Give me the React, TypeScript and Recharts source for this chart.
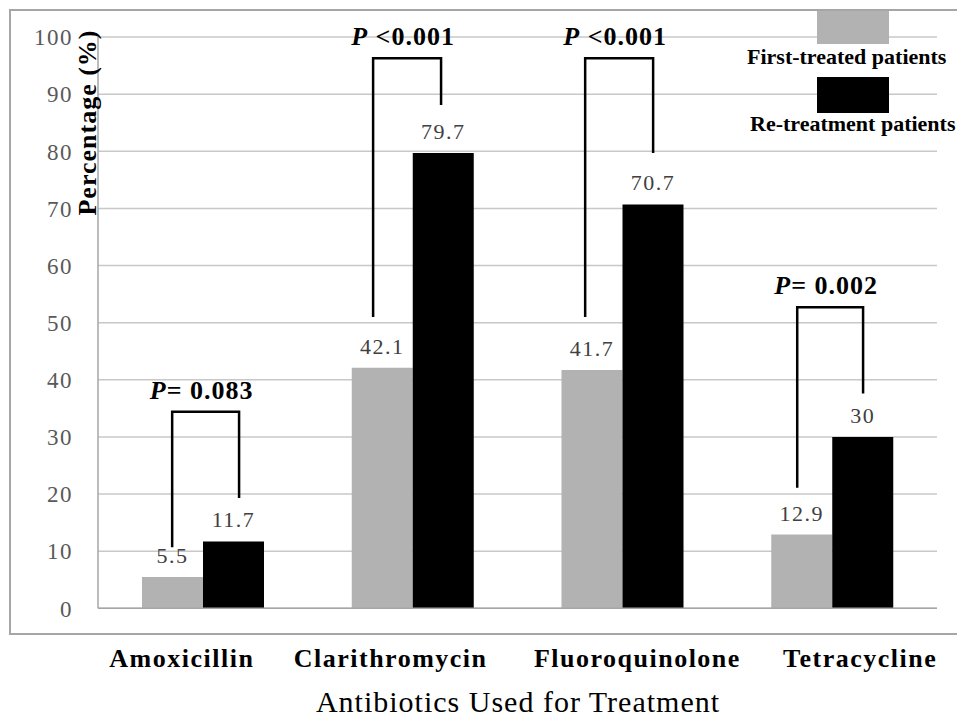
import React from 'react';
import { BarChart, Bar, XAxis, YAxis, CartesianGrid, LabelList } from 'recharts';

const categories = ['Amoxicillin', 'Clarithromycin', 'Fluoroquinolone', 'Tetracycline'];
const firstTreated = [5.5, 42.1, 41.7, 12.9];
const reTreatment = [11.7, 79.7, 70.7, 30];
const yTicks = [0, 10, 20, 30, 40, 50, 60, 70, 80, 90, 100];
const seriesNames = ['First-treated patients', 'Re-treatment patients'];

// significance brackets (x in category units, y in percent)
const pPrefix = 'P';
const pValues = ['= 0.083', ' <0.001', ' <0.001', '= 0.002'];
const bracketLeftX = [0.353, 1.311, 2.322, 3.333];
const bracketRightX = [0.672, 1.635, 2.646, 3.647];
const bracketTopY = [34.4, 96.3, 96.3, 52.7];
const bracketLeftBottomY = [10.7, 51, 51, 21.1];
const bracketRightBottomY = [19.3, 88.1, 79.7, 37.6];

const data = categories.map((name, i) => ({ name, first: firstTreated[i], re: reTreatment[i] }));

const SERIF = '"Liberation Serif", "Times New Roman", serif';
const GRAY = '#b2b2b2';
const xTickDx = [-21, -22, 15, 28];

const W = 957;
const H = 723;
const MARGIN = { top: 37, right: 20, bottom: 54.7, left: 28 };
const Y_AXIS_W = 70;
const PLOT_W = W - MARGIN.left - MARGIN.right - Y_AXIS_W;

const XTick = (props: any) => {
  const { x, y, payload } = props;
  const idx = props.index ?? payload.index ?? 0;
  return (
    <text x={x + xTickDx[idx]} y={y + 59} textAnchor="middle" fontFamily={SERIF} fontWeight="bold"
      fontSize={26} letterSpacing={1.5} fill="#000">{payload.value}</text>
  );
};

const YTick = (props: any) => {
  const { x, y, payload } = props;
  return (
    <text x={x} y={y} dy="0.36em" textAnchor="end" fontFamily={SERIF} fontSize={23}
      letterSpacing={1.5} fill="#595959">{payload.value}</text>
  );
};

const geom = (props: any) => {
  const vb = props.viewBox || {};
  const x = Number(props.x ?? vb.x);
  const y = Number(props.y ?? vb.y);
  const width = Number(props.width ?? vb.width);
  const height = Number(props.height ?? vb.height);
  return { x, y, width, height };
};

const valueLabel = (props: any) => {
  const { x, y, width } = geom(props);
  return (
    <text x={x + width / 2} y={y - 14} textAnchor="middle" fontFamily={SERIF}
      fontSize={22} letterSpacing={1.5} fill="#404040">{props.value}</text>
  );
};

const reLabel = (props: any) => {
  const { x, y, width, height } = geom(props);
  const value = Number(props.value);
  const i = props.index ?? reTreatment.indexOf(value);
  const base = y + height;
  const k = height / value;
  const Y = (v: number) => base - v * k;
  const band = PLOT_W / categories.length;
  const bandStart = x - band / 2;
  const X = (u: number) => bandStart + (u - i) * band;
  const xl = X(bracketLeftX[i]);
  const xr = X(bracketRightX[i]);
  const yt = Y(bracketTopY[i]);
  return (
    <g>
      <path d={`M${xl},${Y(bracketLeftBottomY[i])} V${yt} H${xr} V${Y(bracketRightBottomY[i])}`}
        stroke="#000" strokeWidth={2.5} fill="none" />
      <text x={(xl + xr) / 2 - 4} y={yt - 13} textAnchor="middle" fontFamily={SERIF} fontWeight="bold"
        fontSize={26} letterSpacing={1} fill="#000">
        <tspan fontStyle="italic">{pPrefix}</tspan>
        <tspan>{pValues[i]}</tspan>
      </text>
      <text x={x + width / 2} y={y - 14} textAnchor="middle" fontFamily={SERIF}
        fontSize={22} letterSpacing={1.5} fill="#404040">{props.value}</text>
    </g>
  );
};

export default function App() {
  return (
    <div style={{ position: 'absolute', left: 0, top: 0, width: W, height: H, overflow: 'hidden', background: '#fff' }}>
      <BarChart width={W} height={H} data={data} margin={MARGIN} barGap={0} barSize={61}>
        <CartesianGrid vertical={false} stroke="#c8c8c8" strokeWidth={1.5} />
        <XAxis dataKey="name" height={60} tickLine={false} tickSize={0} tickMargin={0}
          axisLine={{ stroke: '#a6a6a6', strokeWidth: 1.5 }} tick={<XTick />} interval={0} />
        <YAxis width={Y_AXIS_W} domain={[0, 100]} ticks={yTicks} tickLine={false} tickSize={0} tickMargin={25}
          axisLine={{ stroke: '#a6a6a6', strokeWidth: 1.5 }} tick={<YTick />} interval={0} />
        <Bar dataKey="first" name={seriesNames[0]} fill={GRAY} isAnimationActive={false}>
          <LabelList dataKey="first" content={valueLabel} />
        </Bar>
        <Bar dataKey="re" name={seriesNames[1]} fill="#000" isAnimationActive={false}>
          <LabelList dataKey="re" content={reLabel} />
        </Bar>
      </BarChart>
      <svg width={W} height={H} style={{ position: 'absolute', left: 0, top: 0, pointerEvents: 'none' }}>
        <rect x={817} y={10} width={72} height={34} fill={GRAY} />
        <rect x={817} y={77} width={72} height={36} fill="#000" />
        <text x={747} y={64} fontFamily={SERIF} fontWeight="bold" fontSize={22} fill="#000">{seriesNames[0]}</text>
        <text x={750} y={131} fontFamily={SERIF} fontWeight="bold" fontSize={22} fill="#000">{seriesNames[1]}</text>
        <text transform="translate(96,122.5) rotate(-90)" textAnchor="middle" fontFamily={SERIF} fontWeight="bold"
          fontSize={26} letterSpacing={1} fill="#000">Percentage (%)</text>
        <text x={518} y={712} textAnchor="middle" fontFamily={SERIF} fontSize={30} letterSpacing={1} fill="#000">
          Antibiotics Used for Treatment</text>
        <rect x={10} y={10} width={960} height={624} fill="none" stroke="#a6a6a6" strokeWidth={2} />
      </svg>
    </div>
  );
}
